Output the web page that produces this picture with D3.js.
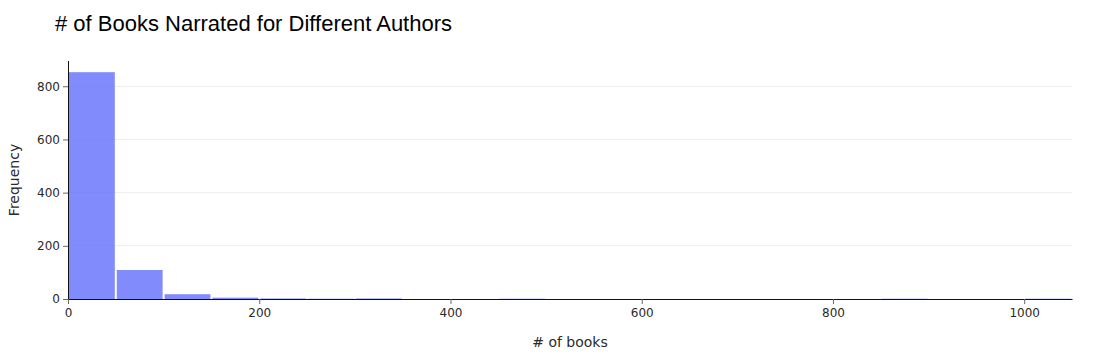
<!DOCTYPE html>
<html>
<head>
<meta charset="utf-8">
<script src="https://cdn.jsdelivr.net/npm/d3@7"></script>
<style>
  html, body { margin: 0; padding: 0; background: #fff; overflow: hidden; }
  svg { display: block; }
  svg text { font-family: "DejaVu Sans", Verdana, sans-serif; }
</style>
</head>
<body>
<div id="chart"></div>
<script>
// histogram bins (width 50) and their counts
const binStarts = [0, 50, 100, 150, 200, 250, 300, 350, 400, 450, 500, 550, 600, 650, 700, 750, 800, 850, 900, 950, 1000];
const binWidth = 50;
const counts = [853, 109, 18, 5, 2, 1, 2, 0, 0, 1, 0, 0, 0, 0, 0, 0, 0, 1, 0, 0, 1];
const xTicks = [0, 200, 400, 600, 800, 1000];
const yTicks = [0, 200, 400, 600, 800];

const width = 1093, height = 360;
const margin = { top: 61, right: 21, bottom: 61, left: 68 };
const innerWidth = width - margin.left - margin.right;
const innerHeight = height - margin.top - margin.bottom;

const svg = d3.select("#chart")
    .append("svg")
    .attr("width", width)
    .attr("height", height);

// title
svg.append("text")
    .attr("x", 55)
    .attr("y", 31)
    .style("font-family", "'Liberation Sans', Arial, sans-serif")
    .style("font-size", "22px")
    .attr("fill", "#000")
    .text("# of Books Narrated for Different Authors");

const g = svg.append("g")
    .attr("transform", `translate(${margin.left},${margin.top})`);

const xScale = d3.scaleLinear()
    .domain([0, 1050])
    .range([0, innerWidth]);

const yScale = d3.scaleLinear()
    .domain([0, 895])
    .range([innerHeight, 0]);

// grid lines
g.selectAll("line.grid")
    .data(yTicks.filter(d => d > 0))
    .join("line")
    .attr("class", "grid")
    .attr("x1", 0)
    .attr("x2", innerWidth)
    .attr("y1", d => yScale(d))
    .attr("y2", d => yScale(d))
    .attr("stroke", "#eeeeee")
    .attr("stroke-width", 1)
    .attr("shape-rendering", "crispEdges");

// bars
const data = binStarts.map((s, i) => ({ x0: s, x1: s + binWidth, n: counts[i] }));
g.selectAll("rect.bar")
    .data(data.filter(d => d.n > 0))
    .join("rect")
    .attr("class", "bar")
    .attr("x", d => xScale(d.x0) + 1)
    .attr("width", d => xScale(d.x1) - xScale(d.x0) - 2)
    .attr("y", d => yScale(d.n))
    .attr("height", d => yScale(0) - yScale(d.n))
    .attr("fill", "#636efa")
    .attr("fill-opacity", 0.8);

// axes
const xAxis = d3.axisBottom(xScale).tickValues(xTicks).tickSize(5).tickPadding(4)
    .tickSizeOuter(0).tickFormat(d3.format("d"));
const yAxis = d3.axisLeft(yScale).tickValues(yTicks).tickSize(5).tickPadding(3)
    .tickSizeOuter(0).tickFormat(d3.format("d"));

const gx = g.append("g")
    .attr("transform", `translate(0,${innerHeight})`)
    .call(xAxis);
const gy = g.append("g").call(yAxis);

[gx, gy].forEach(ax => {
    ax.select(".domain").attr("stroke", "#111").attr("stroke-width", 1);
    ax.selectAll(".tick line").attr("stroke", "#666");
    ax.selectAll(".tick text")
        .style("font-family", "'DejaVu Sans', Verdana, sans-serif")
        .style("font-size", "12px")
        .attr("fill", "#2a2a2a");
});
gy.select(".domain").attr("d", `M0.5,${innerHeight}V0`);

// axis titles
g.append("text")
    .attr("x", innerWidth / 2)
    .attr("y", innerHeight + 48)
    .style("text-anchor", "middle")
    .style("font-size", "14px")
    .attr("fill", "#2a2a2a")
    .text("# of books");

g.append("text")
    .attr("transform", "rotate(-90)")
    .attr("x", -innerHeight / 2)
    .attr("y", -49)
    .style("text-anchor", "middle")
    .style("font-size", "14px")
    .attr("fill", "#2a2a2a")
    .text("Frequency");
</script>
</body>
</html>
